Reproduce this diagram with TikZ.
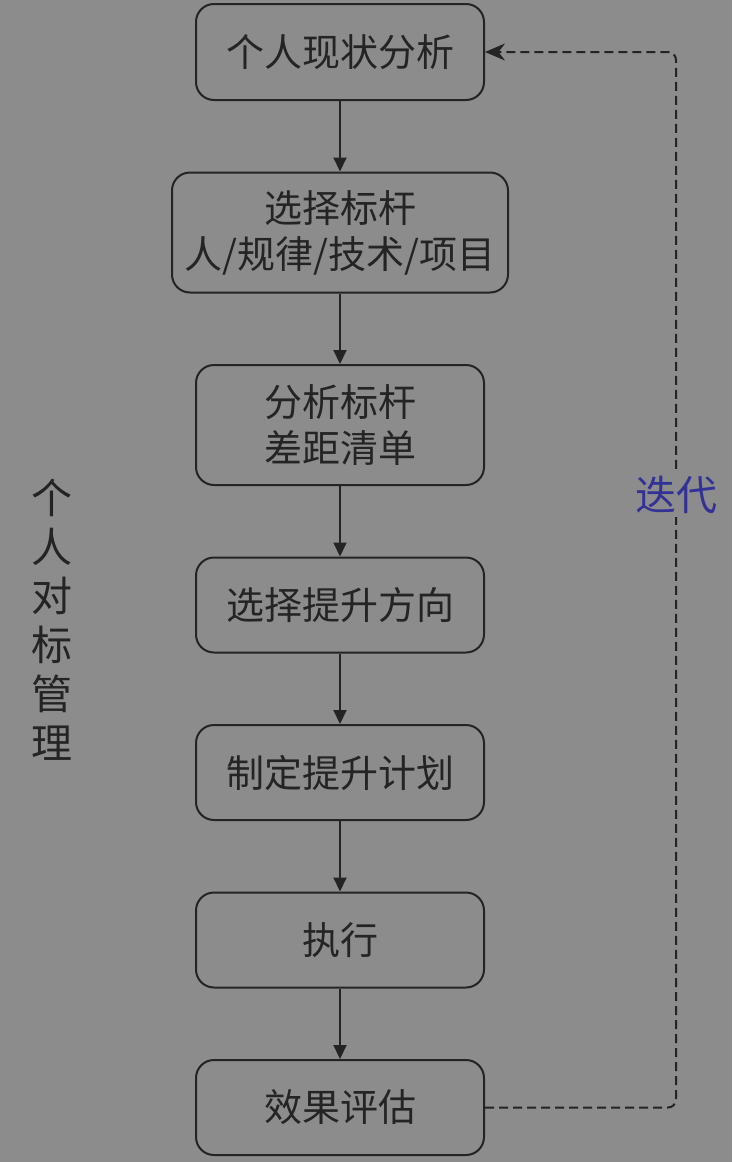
\documentclass[tikz,border=0pt]{standalone}
\usepackage{fontspec}
\setmainfont{Noto Sans CJK SC}
\usetikzlibrary{positioning, arrows.meta}
\definecolor{bggray}{RGB}{140,140,140}
\definecolor{inkgray}{RGB}{36,36,36}
\definecolor{iterblue}{RGB}{50,50,150}

\begin{document}
\begin{tikzpicture}[x=1pt, y=1pt,
  node distance=70.5pt,
  stage/.style={rectangle, rounded corners=18pt, draw=inkgray, line width=2pt,
                fill=bggray, minimum width=288pt, minimum height=95pt, inner sep=0pt,
                font=\fontsize{38}{46}\selectfont, text=inkgray, align=center},
  arr/.style={-{Triangle[length=14pt,width=13pt]}, line width=2pt, color=inkgray},
  backarr/.style={-{Stealth[length=20pt,width=17pt,fill=inkgray]}, line width=2pt,
                  color=inkgray, dash pattern=on 9pt off 5pt, rounded corners=8pt}
]
  \fill[bggray] (0,0) rectangle (732,-1162);

  \node[stage, minimum height=96pt] (status) at (340,-52) {个人现状分析};
  \node[stage, minimum width=336pt, minimum height=120pt, below=of status] (pick)
    {选择标杆\\人/规律/技术/项目};
  \node[stage, minimum height=120pt, below=of pick] (gap) {分析标杆\\差距清单};
  \node[stage, below=of gap]  (dir)  {选择提升方向};
  \node[stage, below=of dir]  (plan) {制定提升计划};
  \node[stage, below=of plan] (run)  {执行};
  \node[stage, below=of run]  (eval) {效果评估};

  \draw[arr] (status) -- (pick);
  \draw[arr] (pick)   -- (gap);
  \draw[arr] (gap)    -- (dir);
  \draw[arr] (dir)    -- (plan);
  \draw[arr] (plan)   -- (run);
  \draw[arr] (run)    -- (eval);

  % iteration loop back to the top
  \coordinate (turn) at (676,-495);
  \draw[backarr] (eval.east) -| (turn) |- (status.east);
  \node[fill=bggray, inner sep=3pt, font=\fontsize{41}{46}\selectfont, text=iterblue]
    (iter) at (turn) {迭代};

  \node[font=\fontsize{41}{49}\selectfont, text=inkgray, align=center] (title)
    at (52,-620) {个\\人\\对\\标\\管\\理};
\end{tikzpicture}
\end{document}
